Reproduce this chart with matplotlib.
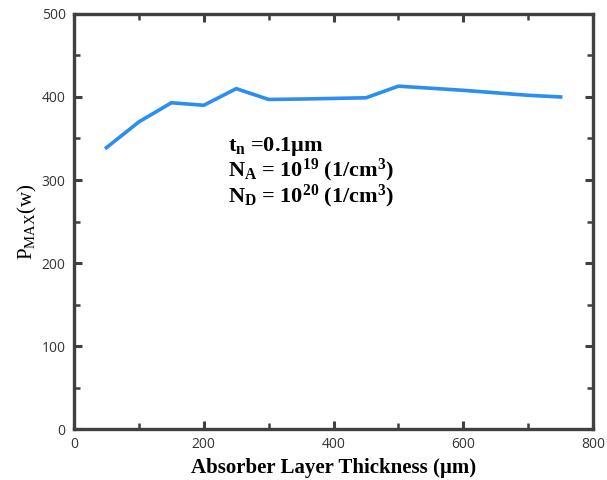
import matplotlib
matplotlib.use("Agg")
import matplotlib.pyplot as plt
from matplotlib.ticker import MultipleLocator

thickness = [50, 100, 150, 200, 250, 300, 350, 450, 500, 600, 700, 750]
pmax = [339, 370, 393, 390, 410, 397, 397.5, 399, 413, 408, 402, 400]

plt.rcParams["mathtext.fontset"] = "custom"
plt.rcParams["mathtext.rm"] = "Liberation Serif"
plt.rcParams["mathtext.it"] = "Liberation Serif:italic"
plt.rcParams["mathtext.bf"] = "Liberation Serif:bold"

fig = plt.figure(figsize=(6.07, 4.80), dpi=100)
ax = fig.add_axes([0.122, 0.106, 0.855, 0.865])

ax.plot(thickness, pmax, color="#2b8ef0", linewidth=2.6, solid_joinstyle="miter")

ax.set_xlim(0, 800)
ax.set_ylim(0, 500)
ax.xaxis.set_major_locator(MultipleLocator(200))
ax.xaxis.set_minor_locator(MultipleLocator(100))
ax.yaxis.set_major_locator(MultipleLocator(100))
ax.yaxis.set_minor_locator(MultipleLocator(50))

edge = "#404040"
for s in ax.spines.values():
    s.set_linewidth(2.4)
    s.set_color(edge)
ax.tick_params(which="both", direction="in", top=True, right=True, color=edge,
               labelright=False, labeltop=False)
ax.tick_params(which="major", length=6, width=2.2, labelsize=10, labelcolor="#333333", pad=6)
ax.tick_params(which="minor", length=4, width=1.8)
for lab in ax.get_xticklabels() + ax.get_yticklabels():
    lab.set_family("Open Sans")

ax.set_xlabel("Absorber Layer Thickness (µm)", family="Liberation Serif",
              fontweight="bold", fontsize=15, labelpad=4)
ax.set_ylabel(r"P$_{\rm MAX}$(w)", family="Liberation Serif", fontsize=15, labelpad=2)

note = "\n".join([
    r"$\mathbf{t_n}$ =0.1µm",
    r"$\mathbf{N_A}$ = 10$^{\mathbf{19}}$ (1/cm$^{\mathbf{3}}$)",
    r"$\mathbf{N_D}$ = 10$^{\mathbf{20}}$ (1/cm$^{\mathbf{3}}$)",
])
ax.text(237, 309, note, family="Liberation Serif", fontweight="bold", fontsize=16,
        va="center", ha="left", linespacing=0.95)

fig.savefig("out.png", dpi=100)
